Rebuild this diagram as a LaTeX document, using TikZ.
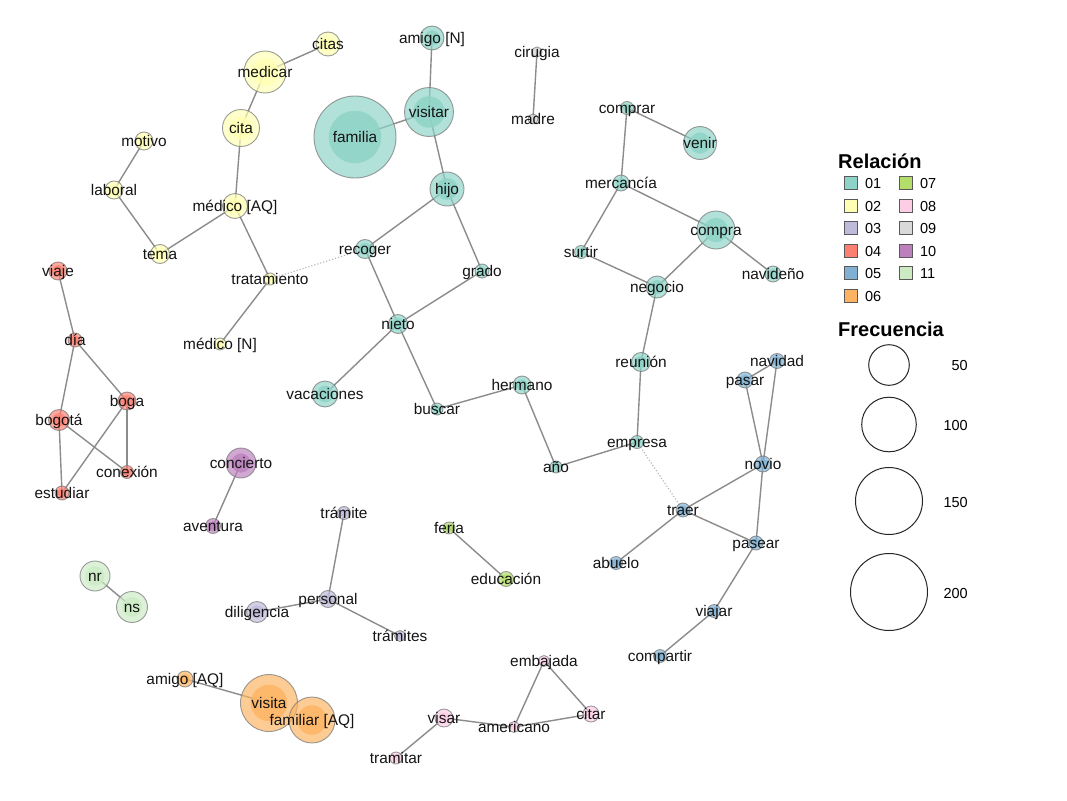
\documentclass[tikz,border=0pt]{standalone}
\usepackage{fontspec}
\setmainfont{Liberation Sans}
\pgfdeclarelayer{edgelayer}
\pgfsetlayers{edgelayer,main}
\definecolor{c01}{HTML}{8DD3C7}
\definecolor{c02}{HTML}{FFFFB3}
\definecolor{c03}{HTML}{BEBADA}
\definecolor{c04}{HTML}{FB8072}
\definecolor{c05}{HTML}{80B1D3}
\definecolor{c06}{HTML}{FDB462}
\definecolor{c07}{HTML}{B3DE69}
\definecolor{c08}{HTML}{FCCDE5}
\definecolor{c09}{HTML}{D9D9D9}
\definecolor{c10}{HTML}{BC80BD}
\definecolor{c11}{HTML}{CCEBC5}
\tikzset{
  bub/.style={circle, inner sep=0pt, draw=black!55, draw opacity=0.7, line width=0.9pt, fill opacity=0.68},
  lbl/.style={inner sep=0pt, yshift=-2pt, font=\fontsize{15.4}{17}\selectfont, text=black!92, text height=0.72em, text depth=0pt},
  edge/.style={draw=black!45, line width=1.4pt},
  weak/.style={draw=black!30, line width=1.1pt, dotted},
  legsq/.style={draw=black!65, line width=0.8pt, minimum size=13pt, inner sep=0pt},
  legtxt/.style={anchor=west, inner sep=0pt, yshift=-2pt, font=\fontsize{14.5}{16}\selectfont, text height=0.72em, text depth=0pt},
  legtitle/.style={anchor=west, inner sep=0pt, yshift=-3pt, font=\fontsize{20}{22}\selectfont\bfseries, text height=0.72em, text depth=0pt},
  freqc/.style={circle, draw=black!85, line width=1pt, inner sep=0pt},
}
\newcommand\Bub[6]{%
  \node[bub, fill=#5, minimum size={2*#4pt}] (#1) at (#2,#3) {};
  \fill[#5, fill opacity=0.8] (#1.center) circle[radius={0.64*#4pt}];
  \node[lbl] (#1-t) at (#1.center) {#6};
}
\begin{document}
\begin{tikzpicture}[x=1pt,y=-1pt]
\useasboundingbox (0,0) rectangle (1067,800);
\begin{pgfonlayer}{edgelayer}
\fill[white] (0,0) rectangle (1067,800);
\end{pgfonlayer}
% 01
\Bub{amigoN}{432}{38}{12}{c01}{amigo [N]}
\Bub{familia}{355}{137}{41}{c01}{familia}
\Bub{visitar}{429}{112}{24.5}{c01}{visitar}
\Bub{hijo}{447}{189}{17}{c01}{hijo}
\Bub{recoger}{365}{249}{9.5}{c01}{recoger}
\Bub{grado}{482}{271}{7}{c01}{grado}
\Bub{nieto}{398}{324}{9.5}{c01}{nieto}
\Bub{vacaciones}{325}{394}{13}{c01}{vacaciones}
\Bub{buscar}{437}{409}{6}{c01}{buscar}
\Bub{hermano}{522}{385}{9}{c01}{hermano}
\Bub{anio}{556}{467}{6}{c01}{año}
\Bub{empresa}{637}{442}{6.5}{c01}{empresa}
\Bub{reunion}{641}{362}{9.5}{c01}{reunión}
\Bub{negocio}{657}{287}{11}{c01}{negocio}
\Bub{surtir}{581}{252}{6.5}{c01}{surtir}
\Bub{mercancia}{621}{183}{8}{c01}{mercancía}
\Bub{comprar}{627}{108}{6.5}{c01}{comprar}
\Bub{venir}{700}{143}{16.5}{c01}{venir}
\Bub{compra}{716}{230}{19}{c01}{compra}
\Bub{navideno}{773}{274}{8}{c01}{navideño}
% 09
\Bub{cirugia}{537}{52}{5}{c09}{cirugia}
\Bub{madre}{533}{119}{5}{c09}{madre}
% 02
\Bub{citas}{328}{44}{12}{c02}{citas}
\Bub{medicar}{265}{72}{21}{c02}{medicar}
\Bub{cita}{241}{128}{18.5}{c02}{cita}
\Bub{motivo}{144}{141}{9}{c02}{motivo}
\Bub{laboral}{114}{190}{9}{c02}{laboral}
\Bub{medicoAQ}{235}{206}{12.5}{c02}{médico [AQ]}
\Bub{tema}{160}{254}{9.5}{c02}{tema}
\Bub{tratamiento}{270}{279}{6}{c02}{tratamiento}
\Bub{medicoN}{220}{344}{6}{c02}{médico [N]}
% 05
\Bub{navidad}{777}{361}{7.5}{c05}{navidad}
\Bub{pasar}{745}{380}{8}{c05}{pasar}
\Bub{novio}{763}{464}{8}{c05}{novio}
\Bub{traer}{683}{510}{7}{c05}{traer}
\Bub{pasear}{756}{543}{7}{c05}{pasear}
\Bub{abuelo}{616}{563}{6.5}{c05}{abuelo}
\Bub{viajar}{714}{611}{6.5}{c05}{viajar}
\Bub{compartir}{660}{656}{6.5}{c05}{compartir}
% 08
\Bub{embajada}{544}{661}{5.5}{c08}{embajada}
\Bub{citar}{591}{714}{8}{c08}{citar}
\Bub{americano}{514}{727}{5.5}{c08}{americano}
\Bub{visar}{444}{718}{9}{c08}{visar}
\Bub{tramitar}{396}{758}{6}{c08}{tramitar}
% 06
\Bub{amigoAQ}{185}{679}{8}{c06}{amigo [AQ]}
\Bub{visita}{269}{703}{28.5}{c06}{visita}
\Bub{familiarAQ}{312}{720}{23}{c06}{familiar [AQ]}
% 03
\Bub{tramite}{344}{513}{6.5}{c03}{trámite}
\Bub{personal}{328}{599}{8.5}{c03}{personal}
\Bub{diligencia}{257}{612}{10.5}{c03}{diligencia}
\Bub{tramites}{400}{636}{5.5}{c03}{trámites}
% 07
\Bub{feria}{449}{528}{6}{c07}{feria}
\Bub{educacion}{506}{579}{7.5}{c07}{educación}
% 10
\Bub{concierto}{241}{463}{15}{c10}{concierto}
\Bub{aventura}{213}{526}{7.5}{c10}{aventura}
% 11
\Bub{nr}{95}{576}{15}{c11}{nr}
\Bub{ns}{132}{607}{15.5}{c11}{ns}
% 04
\Bub{viaje}{58}{271}{9}{c04}{viaje}
\Bub{dia}{75}{340}{7}{c04}{día}
\Bub{boga}{127}{401}{9}{c04}{boga}
\Bub{bogota}{59}{420}{10.5}{c04}{bogotá}
\Bub{conexion}{127}{472}{6.5}{c04}{conexión}
\Bub{estudiar}{62}{493}{7}{c04}{estudiar}

\begin{pgfonlayer}{edgelayer}
\foreach \a/\b in {citas/medicar, medicar/cita, cita/medicoAQ, medicoAQ/tema, medicoAQ/tratamiento,
  tratamiento/medicoN, motivo/laboral, laboral/tema, amigoN/visitar, visitar/familia, visitar/hijo,
  hijo/recoger, hijo/grado, recoger/nieto, grado/nieto, nieto/vacaciones, nieto/buscar, buscar/hermano,
  hermano/anio, anio/empresa, empresa/reunion, reunion/negocio, negocio/compra, negocio/surtir,
  surtir/mercancia, mercancia/compra, mercancia/comprar, comprar/venir, compra/navideno, cirugia/madre,
  traer/novio, traer/pasear, traer/abuelo, novio/pasar, novio/navidad, pasar/navidad, novio/pasear,
  pasear/viajar, viajar/compartir, embajada/americano, embajada/citar, americano/citar, visar/americano,
  visar/tramitar, amigoAQ/visita, tramite/personal, personal/diligencia, personal/tramites,
  feria/educacion, concierto/aventura, nr/ns, viaje/dia, dia/bogota, dia/boga, bogota/estudiar,
  bogota/conexion, boga/conexion, boga/estudiar}
  \draw[edge] (\a.center) -- (\b.center);
\draw[weak] (tratamiento.center) -- (recoger.center);
\draw[weak] (empresa.center) -- (traer.center);
\end{pgfonlayer}

% legend
\node[legtitle] (relTitle) at (838,162) {Relación};
\foreach \n/\c/\x/\y in {01/c01/851/183, 02/c02/851/205.5, 03/c03/851/228, 04/c04/851/250.5,
  05/c05/851/273, 06/c06/851/295.5, 07/c07/906/183, 08/c08/906/205.5, 09/c09/906/228,
  10/c10/906/250.5, 11/c11/906/273}{
  \node[legsq, fill=\c] (sq\n) at (\x,\y) {};
  \node[legtxt] (sqt\n) at ([xshift=7pt]sq\n.east) {\n};
}
\node[legtitle] (freqTitle) at (838,330) {Frecuencia};
\node[freqc, minimum size=40.6pt] (f50) at (889,365) {};
\node[freqc, minimum size=54.6pt] (f100) at (889,424.5) {};
\node[freqc, minimum size=67pt] (f150) at (889,501) {};
\node[freqc, minimum size=77pt] (f200) at (889,592) {};
\node[legtxt, anchor=east] (f50t) at (968,365) {50};
\node[legtxt, anchor=east] (f100t) at (968,424.5) {100};
\node[legtxt, anchor=east] (f150t) at (968,502) {150};
\node[legtxt, anchor=east] (f200t) at (968,593) {200};
\end{tikzpicture}
\end{document}
